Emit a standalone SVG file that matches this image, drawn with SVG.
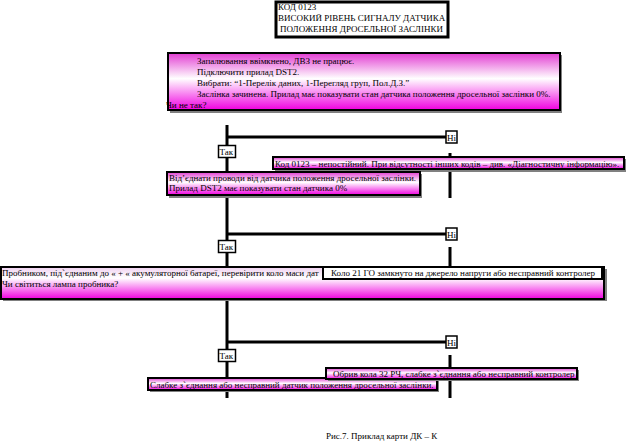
<svg xmlns="http://www.w3.org/2000/svg" width="626" height="441" viewBox="0 0 626 441">
<defs>
<linearGradient id="g1" x1="0" y1="0" x2="0" y2="1">
<stop offset="0" stop-color="#e23cd2"/>
<stop offset="0.45" stop-color="#ffffff"/>
<stop offset="1" stop-color="#f000e0"/>
</linearGradient>
<linearGradient id="g2" x1="0" y1="0" x2="0" y2="1">
<stop offset="0" stop-color="#f0d0f0"/>
<stop offset="0.35" stop-color="#ffffff"/>
<stop offset="1" stop-color="#f000e0"/>
</linearGradient>
</defs>
<style>
text{font-family:"Liberation Serif","Times New Roman",serif;font-size:9px;fill:#000}
.box{fill:url(#g1);stroke:#000;stroke-width:2}
.box2{fill:url(#g2);stroke:#000;stroke-width:2}
.sh{fill:#808080}
.lab{fill:#fff;stroke:#000;stroke-width:1.5}
.ln{stroke:#000;stroke-width:3;fill:none}
</style>
<rect width="626" height="441" fill="#fff"/>
<g id="connectors">
<path class="ln" d="M227,125 V172 M227,137 H447 M450,153 V198"/>
<path class="ln" d="M227,196 V268 M227,234 H447 M450,247 V268"/>
<path class="ln" d="M227,299 V398 M227,342 H447 M450,355 V398"/>
</g>
<g id="title">
<rect x="276" y="2" width="172" height="35" fill="#fff" stroke="#000" stroke-width="3"/>
<text x="278" y="10">КОД 0123</text>
<text x="278" y="21">ВИСОКИЙ РІВЕНЬ СИГНАЛУ ДАТЧИКА</text>
<text x="280" y="32">ПОЛОЖЕННЯ ДРОСЕЛЬНОЇ ЗАСЛІНКИ</text>
</g>
<g id="n1">
<rect class="sh" x="170" y="55" width="392" height="58"/>
<rect class="box" x="168" y="53" width="392" height="57"/>
<text x="197" y="64">Запалювання ввімкнено, ДВЗ не працює.</text>
<text x="197" y="75">Підключити прилад DST2.</text>
<text x="197" y="86">Вибрати: “1-Перелік даних, 1-Перегляд груп, Пол.Д.З.”</text>
<text x="197" y="97">Заслінка зачинена. Прилад має показувати стан датчика положення дросельної заслінки 0%.</text>
<text x="166" y="108">Чи не так?</text>
</g>
<g id="yes1"><rect class="lab" x="218.5" y="145.5" width="17" height="12"/><text x="219.5" y="155">Так</text></g>
<g id="no1"><rect class="lab" x="446" y="131" width="11" height="12"/><text x="447" y="140.5">Ні</text></g>
<g id="n2">
<rect class="sh" x="275" y="159" width="352" height="13"/>
<rect class="box" x="273" y="157" width="351" height="12"/>
<text x="275" y="166.5">Код 0123 – непостійний. При відсутності інших кодів – див. «Діагностичну інформацію».</text>
</g>
<g id="n3">
<rect class="sh" x="169" y="174" width="253" height="24"/>
<rect class="box" x="167" y="172" width="253" height="23"/>
<text x="169" y="181">Від’єднати проводи від датчика положення дросельної заслінки.</text>
<text x="169" y="191">Прилад DST2 має показувати стан датчика 0%</text>
</g>
<g id="yes2"><rect class="lab" x="218.5" y="240.5" width="17" height="12"/><text x="219.5" y="250">Так</text></g>
<g id="no2"><rect class="lab" x="446" y="228" width="11" height="12"/><text x="447" y="237.5">Ні</text></g>
<g id="n4">
<rect class="sh" x="3" y="269" width="604" height="32"/>
<rect class="box2" x="1" y="267" width="603" height="32"/>
<text x="2" y="276">Пробником, під`єднаним до « + « акумуляторної батареї, перевірити коло маси дат</text>
<text x="2" y="287">Чи світиться лампа пробника?</text>
</g>
<g id="n5">
<rect x="323" y="267" width="279" height="12" fill="#fff" stroke="#000" stroke-width="2"/>
<text x="331" y="276">Коло 21 ГО замкнуто на джерело напруги або несправний контролер</text>
</g>
<g id="yes3"><rect class="lab" x="218.5" y="349.5" width="17" height="12"/><text x="219.5" y="359">Так</text></g>
<g id="no3"><rect class="lab" x="446" y="336" width="11" height="12"/><text x="447" y="345.5">Ні</text></g>
<g id="n7">
<rect class="sh" x="150" y="380" width="289" height="12"/>
<rect class="box" x="148" y="378" width="289" height="12"/>
<text x="150" y="387.5">Слабке з`єднання або несправний датчик положення дросельної заслінки.</text>
</g>
<g id="n6">
<rect class="sh" x="328" y="370" width="251" height="11"/>
<rect class="box" x="326" y="368" width="251" height="11"/>
<text x="333" y="376.5">Обрив кола 32 РЧ, слабке з`єднання або несправний контролер</text>
</g>
<text x="326" y="439">Рис.7. Приклад карти ДК – К</text>
</svg>
